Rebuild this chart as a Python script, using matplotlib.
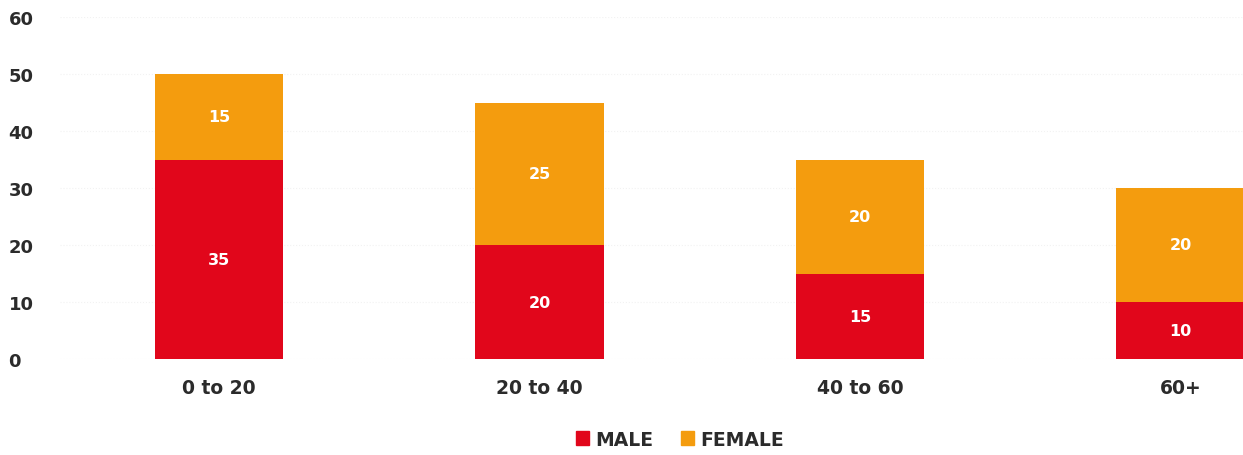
import matplotlib.pyplot as plt
from matplotlib.patches import Patch

categories = ['0 to 20', '20 to 40', '40 to 60', '60+']
male = [35, 20, 15, 10]
female = [15, 25, 20, 20]
yticks = [0, 10, 20, 30, 40, 50, 60]

red = '#e1061b'
orange = '#f49c0e'
dark = '#2b2b2b'

plt.rcParams['font.family'] = ['DejaVu Sans']

fig = plt.figure(figsize=(12.43, 4.56), dpi=100)
ax = fig.add_axes([60 / 1243, 96 / 456, 1183 / 1243, 342 / 456])

x = list(range(len(categories)))
ax.bar(x, male, width=0.4, color=red, zorder=2)
ax.bar(x, female, width=0.4, bottom=male, color=orange, zorder=2)

# value labels in the middle of each segment
for i in x:
    ax.text(i, male[i] / 2, str(male[i]), ha='center', va='center',
            color='white', fontsize=11.5, fontweight='bold')
    ax.text(i, male[i] + female[i] / 2, str(female[i]), ha='center', va='center',
            color='white', fontsize=11.5, fontweight='bold')

ax.set_xlim(-0.496, 3.195)
ax.set_ylim(0, 60)
ax.set_yticks(yticks)
ax.set_yticklabels([str(v) for v in yticks], fontsize=13, fontweight='bold', color=dark)
for lab in ax.get_yticklabels():
    lab.set_ha('left')
ax.tick_params(axis='y', length=0, pad=37)
ax.set_xticks(x)
ax.set_xticklabels(categories, fontsize=13.5, fontweight='bold', color=dark)
ax.tick_params(axis='x', length=0, pad=14)

ax.grid(axis='y', color='#f2f2f2', linestyle=':', linewidth=0.8, zorder=0)
for s in ax.spines.values():
    s.set_visible(False)

handles = [Patch(color=red, label='MALE'), Patch(color=orange, label='FEMALE')]
leg = fig.legend(handles=handles, loc='center', bbox_to_anchor=(0.547, 0.035), ncol=2,
                 frameon=False, handlelength=0.7, handleheight=0.7, handletextpad=0.3,
                 columnspacing=1.5, prop={'size': 13.5, 'weight': 'bold'})
for t in leg.get_texts():
    t.set_color(dark)

fig.savefig('out.png', dpi=100)
